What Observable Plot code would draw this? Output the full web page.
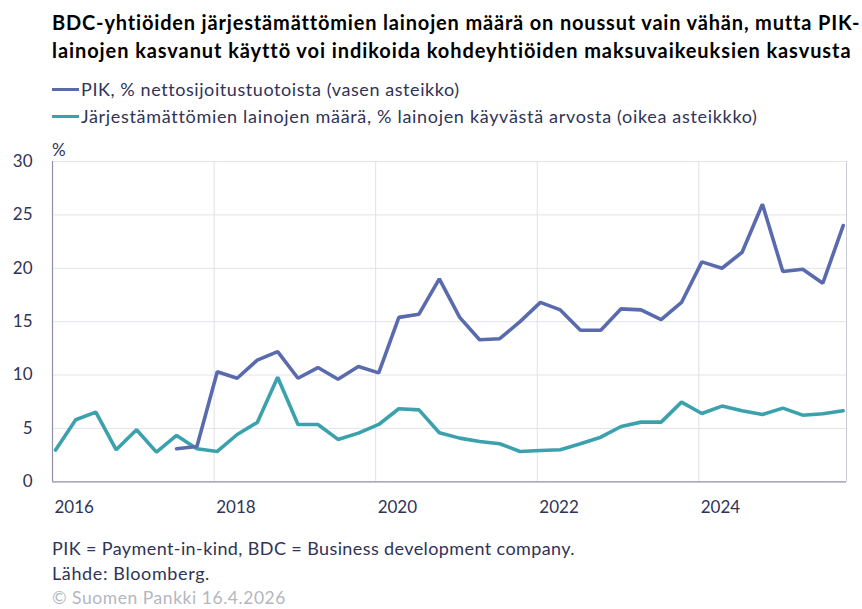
<!DOCTYPE html>
<html>
<head>
<meta charset="utf-8">
<script src="https://cdn.jsdelivr.net/npm/d3@7"></script>
<script src="https://cdn.jsdelivr.net/npm/@observablehq/plot@0.6"></script>
<style>
  html, body { margin: 0; padding: 0; background: #fff; }
  #wrap { position: relative; width: 862px; height: 609px; font-family: Lato, "Open Sans", sans-serif; color: #2f3357; }
  .abs { position: absolute; white-space: nowrap; }
  .title { left: 52px; font-weight: bold; font-size: 20px; line-height: 24px; color: #000; }
  .leg { left: 52px; font-size: 18px; line-height: 22px; display: flex; align-items: center; }
  .sw { display: inline-block; width: 27px; height: 3px; margin-right: 2px; flex: none; }
  #pct { left: 52px; top: 139px; font-size: 17px; z-index: 2; }
  #chart { left: 0; top: 130px; z-index: 1; }
  .foot { left: 52px; font-size: 18px; line-height: 20px; }
</style>
</head>
<body>
<div id="wrap">
  <div class="abs title" style="top:10px" data-w="807">BDC-yhtiöiden järjestämättömien lainojen määrä on noussut vain vähän, mutta PIK-</div>
  <div class="abs title" style="top:38px" data-w="799">lainojen kasvanut käyttö voi indikoida kohdeyhtiöiden maksuvaikeuksien kasvusta</div>
  <div class="abs leg" style="top:78px"><span class="sw" style="background:#5a6bad"></span><span data-w="378">PIK, % nettosijoitustuotoista (vasen asteikko)</span></div>
  <div class="abs leg" style="top:105px"><span class="sw" style="background:#3ba2ad"></span><span data-w="676">Järjestämättömien lainojen määrä, % lainojen käyvästä arvosta (oikea asteikkko)</span></div>
  <div id="chart" class="abs"></div>
  <div id="pct" class="abs">%</div>
  <div class="abs foot" style="top:538px" data-w="523">PIK = Payment-in-kind, BDC = Business development company.</div>
  <div class="abs foot" style="top:563px" data-w="158">Lähde: Bloomberg.</div>
  <div class="abs foot" style="top:590px; font-size:17.5px; line-height:16px; color:#b4b6c0" data-w="234">© Suomen Pankki 16.4.2026</div>
</div>
<script>
const dates = [
  "2016-01-15","2016-04-15","2016-07-15","2016-10-15",
  "2017-01-15","2017-04-15","2017-07-15","2017-10-15",
  "2018-01-15","2018-04-15","2018-07-15","2018-10-15",
  "2019-01-15","2019-04-15","2019-07-15","2019-10-15",
  "2020-01-15","2020-04-15","2020-07-15","2020-10-15",
  "2021-01-15","2021-04-15","2021-07-15","2021-10-15",
  "2022-01-15","2022-04-15","2022-07-15","2022-10-15",
  "2023-01-15","2023-04-15","2023-07-15","2023-10-15",
  "2024-01-15","2024-04-15","2024-07-15","2024-10-15",
  "2025-01-15","2025-04-15","2025-07-15","2025-10-15"
];
const pik = [null,null,null,null,null,null,
  3.1,3.3,10.3,9.7,11.4,12.2,9.7,10.7,9.6,10.8,10.2,15.4,15.7,19.0,
  15.4,13.3,13.4,15.0,16.8,16.1,14.2,14.2,16.2,16.1,15.2,16.8,20.6,20.0,
  21.5,26.0,19.7,19.9,18.6,24.0];
const npl = [2.97,5.81,6.53,3.0,4.87,2.78,4.34,3.09,2.84,4.43,5.56,9.80,
  5.37,5.37,3.97,4.56,5.37,6.84,6.74,4.59,4.09,3.78,3.56,2.84,2.93,3.0,
  3.56,4.18,5.18,5.59,5.59,7.46,6.40,7.09,6.65,6.31,6.90,6.24,6.37,6.65];
const yTicks = [0,5,10,15,20,25,30];
const xTickYears = [2016,2018,2020,2022,2024];
const gridYears = [2018,2020,2022,2024];

// fit text widths to the reference by letter-spacing
document.querySelectorAll("[data-w]").forEach(el => {
  const target = +el.dataset.w;
  const w = el.getBoundingClientRect().width;
  const n = el.textContent.length;
  el.style.letterSpacing = ((target - w) / n) + "px";
});

const parse = d3.utcParse("%Y-%m-%d");
const pikData = dates.map((d,i) => ({date: parse(d), v: pik[i]}));
const nplData = dates.map((d,i) => ({date: parse(d), v: npl[i]}));
const xTicks = xTickYears.map(y => new Date(Date.UTC(y,0,1)));
const xGrid = gridYears.map(y => new Date(Date.UTC(y,0,1)));
const xEnd = new Date(Date.UTC(2025,9,30));

const chart = Plot.plot({
  width: 862,
  height: 400,
  marginLeft: 52,
  marginRight: 16,
  marginTop: 31,
  marginBottom: 48.7,
  style: {fontFamily: "Lato, 'Open Sans', sans-serif", fontSize: "17px", color: "#2f3357", background: "transparent"},
  x: {type: "utc", domain: [new Date(Date.UTC(2016,0,1)), xEnd]},
  y: {domain: [0,30]},
  marks: [
    Plot.ruleY(yTicks.filter(d => d > 0), {stroke: "#e3e3ec", strokeWidth: 1}),
    Plot.ruleX(xGrid, {stroke: "#e0e0ea", strokeWidth: 1}),
    Plot.ruleX([xEnd], {stroke: "#c9cad4", strokeWidth: 1}),
    Plot.axisY(yTicks, {tickSize: 0, tickPadding: 20, label: null, fontSize: 17, fill: "#2f3357"}),
    Plot.axisX(xTicks, {tickSize: 0, tickPadding: 19, label: null, textAnchor: "start", dx: 2, fontSize: 17, fill: "#2f3357", tickFormat: d3.utcFormat("%Y")}),
    Plot.line(nplData, {x: "date", y: "v", stroke: "#3ba2ad", strokeWidth: 3.6, strokeLinejoin: "miter", curve: "linear"}),
    Plot.line(pikData, {x: "date", y: "v", stroke: "#5a6bad", strokeWidth: 3.6, strokeLinejoin: "miter", curve: "linear"}),
    Plot.ruleX([new Date(Date.UTC(2016,0,1))], {stroke: "#8e90a6", strokeWidth: 1.2}),
    Plot.ruleY([0], {stroke: "#8e90a6", strokeWidth: 1.2})
  ]
});
document.getElementById("chart").appendChild(chart);
</script>
</body>
</html>
